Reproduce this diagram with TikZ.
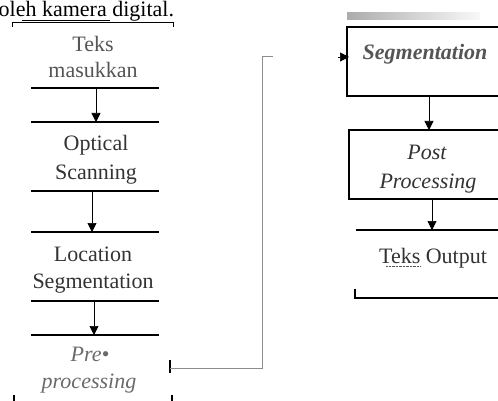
\documentclass[tikz,border=0pt]{standalone}
\usepackage{fontspec}
\setmainfont{Liberation Serif}
\usetikzlibrary{arrows.meta}
\definecolor{txt}{HTML}{333333}
\definecolor{txtl}{HTML}{555555}
\definecolor{txtg}{HTML}{6A6A6A}
\definecolor{conn}{HTML}{8C8C8C}
\begin{document}
\begin{tikzpicture}[x=1pt,y=-1pt,
  lbl/.style={anchor=base,inner sep=0pt,font=\fontsize{22}{28}\selectfont,text=txt},
  sepline/.style={line width=1.4pt,black},
  boxline/.style={line width=1.3pt,black},
  arr/.style={line width=0.7pt,black,-{Triangle[width=9pt,length=9pt]}},
  connline/.style={line width=1pt,conn}]
\useasboundingbox (0,0) rectangle (498,401);
% top caption
\node[lbl,anchor=base west,text=black] (cap) at (-1.5,17) {oleh kamera digital.};
\draw[line width=0.9pt] (12,27) -- (12,22.5) -- (173,22.5) -- (173,27);
\draw[line width=0.6pt] (22,20.5) -- (110,20.5);
% left column separator lines
\foreach \n/\y in {s1/88,s2/122,s3/191,s4/232,s5/301,s6/335}{
  \coordinate (\n w) at (31,\y);
  \coordinate (\n e) at (159,\y);
  \draw[sepline] (\n w) -- (\n e);
}
% left column texts
\node[lbl,text=txtl] (teks1) at (93,52) {Teks};
\node[lbl,text=txtl] (teks2) at (93,78) {masukkan};
\node[lbl] (opt1) at (96,151) {Optical};
\node[lbl] (opt2) at (96,179) {Scanning};
\node[lbl] (loc1) at (93,261) {Location};
\node[lbl] (loc2) at (93,288) {Segmentation};
\node[lbl,text=txtg,font=\fontsize{22}{28}\selectfont\itshape] (pre1) at (90,361) {Pre•};
\node[lbl,text=txtg,font=\fontsize{22}{28}\selectfont\itshape] (pre2) at (89,388) {processing};
% left arrows
\coordinate (a1s) at (96,89); \coordinate (a1e) at (96,122);
\coordinate (a2s) at (92,192); \coordinate (a2e) at (92,232);
\coordinate (a3s) at (94,302); \coordinate (a3e) at (94,335);
\draw[arr] (a1s) -- (a1e);
\draw[arr] (a2s) -- (a2e);
\draw[arr] (a3s) -- (a3e);
% bottom ticks
\draw[line width=1.2pt] (14,395) -- (14,401);
\draw[line width=1.2pt] (172,395) -- (172,401);
% connector from pre-processing to segmentation
\coordinate (ct) at (170,368);
\coordinate (cb) at (262,368);
\coordinate (cu) at (262,57);
\coordinate (cg) at (273,57);
\draw[line width=1.3pt] (170,360) -- (170,373);
\draw[connline] (ct) -- (cb) -- (cu) -- (cg);
% right column: segmentation box
\shade[left color=gray!65,right color=gray!5] (347,13) rectangle (480,20);
\draw[boxline] (498,27) -- (347,27) -- (347,96) -- (498,96);
\node[lbl,font=\fontsize{22}{28}\selectfont\itshape\bfseries,text=txtl] (seg) at (425,60) {Segmentation};
\coordinate (segin0) at (338,57);
\coordinate (segin) at (349,57);
\draw[arr] (segin0) -- (segin);
% post processing box
\draw[boxline] (498,130) -- (349,130) -- (349,199) -- (498,199);
\node[lbl,font=\fontsize{22}{28}\selectfont\itshape] (post1) at (427,160) {Post};
\node[lbl,font=\fontsize{22}{28}\selectfont\itshape] (post2) at (428,189) {Processing};
\coordinate (a4s) at (429,97); \coordinate (a4e) at (429,130);
\draw[arr] (a4s) -- (a4e);
% teks output
\draw[boxline] (356,230) -- (498,230);
\draw[boxline] (355,289) -- (355,298) -- (498,298);
\node[lbl] (out) at (433,263) {Teks Output};
\draw[line width=0.4pt,densely dotted,txtl] (386,266) -- (421,266);
\coordinate (a5s) at (432,200); \coordinate (a5e) at (432,230);
\draw[arr] (a5s) -- (a5e);
\end{tikzpicture}
\end{document}
